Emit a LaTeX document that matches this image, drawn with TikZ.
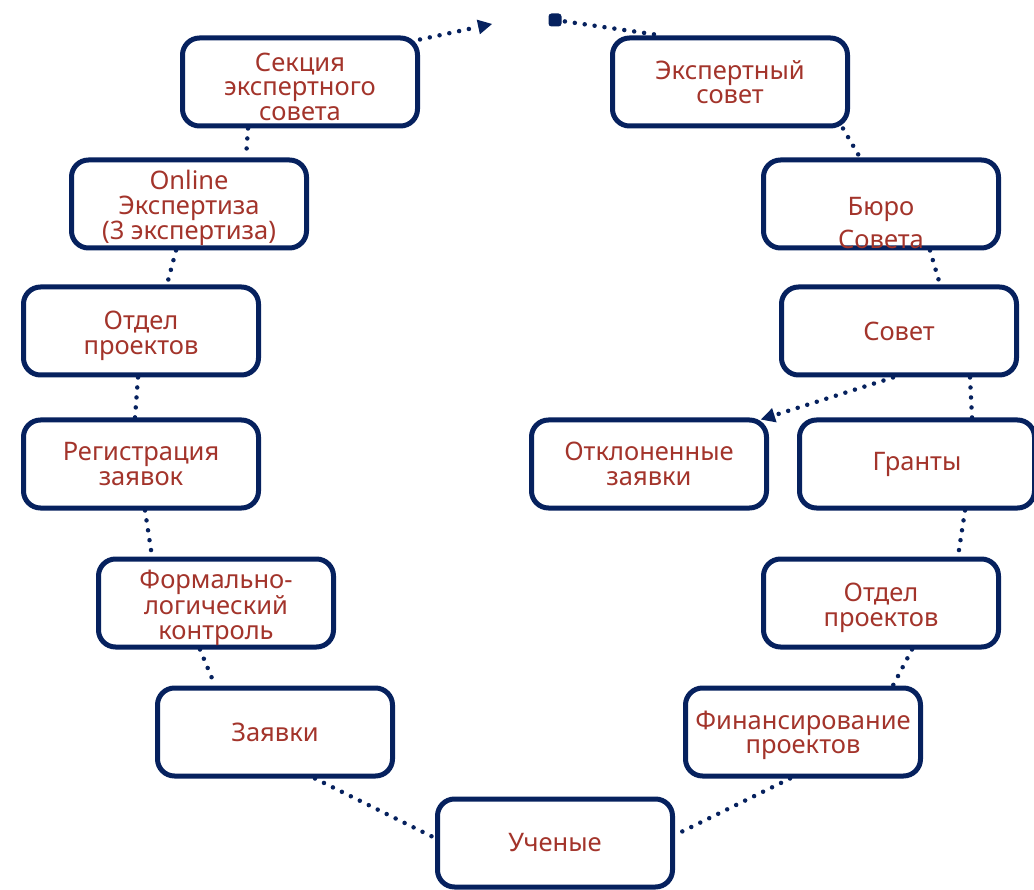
\documentclass[tikz,border=0pt]{standalone}
\usepackage{fontspec}
\setmainfont{Noto Sans}
\usetikzlibrary{arrows.meta}
\definecolor{navy}{HTML}{06215E}
\definecolor{txtred}{HTML}{A3342B}
\newcommand\dnstrut{\rule{0pt}{28pt}}
\tikzset{
  box/.style={draw=navy, line width=5pt, rounded corners=17pt, minimum width=235pt, minimum height=88pt, inner sep=0pt, align=center, text=txtred, font=\fontsize{25.5}{24.5}\selectfont, fill=white},
  txt/.style={align=center, text=txtred, font=\fontsize{25.5}{33}\selectfont, inner sep=0pt},
  dots/.style={draw=navy, line width=4.5pt, line cap=round, dash pattern=on 0pt off 10pt},
  tip/.style={-{Triangle[length=14pt,width=15pt,line width=0pt]}},
}
\begin{document}
\begin{tikzpicture}[x=1pt,y=-1pt]
\useasboundingbox (0,0) rectangle (1034,890);
\node[box] (s1) at (300,82) {\dnstrut Секция\\экспертного\\совета};
\node[box] (s2) at (189,204) {\dnstrut Online\\Экспертиза\\(3 экспертиза)};
\node[box] (s3) at (141,331) {\dnstrut Отдел\\проектов};
\node[box] (s4) at (141,464) {Регистрация\\заявок};
\node[box] (s5) at (216,603) {\dnstrut Формально-\\логический\\контроль};
\node[box] (s6) at (275,732) {Заявки};
\node[box] (s7) at (555,843) {Ученые};
\node[box] (s8) at (803,732) {\rule{0pt}{25pt}Финансирование\\проектов};
\node[box] (s9) at (881,603) {\dnstrut Отдел\\проектов};
\node[box] (s10) at (917,464) {Гранты};
\node[box] (s11) at (649,464) {Отклоненные\\заявки};
\node[box] (s12) at (899,331) {Совет};
\node[box] (s13) at (881,204) {};
\node[txt] (t13) at ([yshift=-19.5pt]s13.center) {Бюро\\Совета};
\node[box] (s14) at (730,82) {Экспертный\\совет};
\coordinate (aend) at (492,24);
\coordinate (dstart) at (555,20);
% connectors
\draw[dots] ([xshift=-52pt]s1.south) -- ([xshift=57pt]s2.north);
\draw[dots] ([xshift=-13pt]s2.south) -- ([xshift=26pt]s3.north);
\draw[dots] ([xshift=-3pt]s3.south) -- ([xshift=-6pt]s4.north);
\draw[dots] ([xshift=4pt]s4.south) -- ([xshift=-64pt]s5.north);
\draw[dots] ([xshift=-16pt]s5.south) -- ([xshift=-60pt]s6.north);
\draw[dots] ([xshift=40pt]s6.south) -- ([yshift=5pt]s7.west);
\draw[dots] ([xshift=-13pt]s8.south) -- ([yshift=8pt]s7.east);
\draw[dots] ([xshift=31pt]s9.south) -- ([xshift=90pt]s8.north);
\draw[dots] ([xshift=48pt]s10.south) -- ([xshift=77pt]s9.north);
\draw[dots] ([xshift=71pt]s12.south) -- ([xshift=55pt]s10.north);
\draw[dots,tip] ([xshift=-6pt]s12.south) -- ([xshift=-8pt,yshift=-2pt]s11.north east);
\draw[dots] ([xshift=49pt]s13.south) -- ([xshift=41pt]s12.north);
\draw[dots] ([xshift=113pt]s14.south) -- ([xshift=-21pt]s13.north);
\draw[dots,tip] ([yshift=-4pt]s1.north east) -- (aend);
\draw[dots] (dstart) -- ([xshift=-68pt]s14.north);
\fill[navy, rounded corners=3pt] ([xshift=-6.5pt,yshift=-6.5pt]dstart) rectangle ([xshift=6.5pt,yshift=6.5pt]dstart);
\end{tikzpicture}
\end{document}
